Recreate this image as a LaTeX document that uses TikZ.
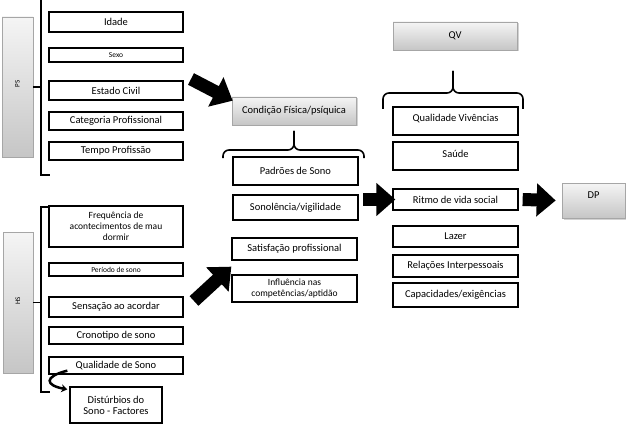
\documentclass[tikz,border=0pt]{standalone}
\usepackage{fontspec}
\setmainfont{Carlito}
\usetikzlibrary{arrows.meta,shadows}

\begin{document}
\begin{tikzpicture}[x=1pt,y=1pt]
  \tikzstyle{every node}=[font=\fontsize{10.5}{11}\selectfont,align=center,inner sep=1pt]
  \tikzstyle{item}=[draw,line width=1.3pt,minimum width=134pt]
  \tikzstyle{head}=[draw=gray!70,line width=0.6pt,top color=gray!8,bottom color=gray!45]
  \tikzstyle{shade}=[drop shadow={shadow xshift=1.5pt,shadow yshift=-1.5pt,opacity=0.35}]
  \tikzstyle{block}=[line width=13pt,-{Triangle[length=19pt,width=32pt]}]
  \tikzstyle{bracket}=[line width=1.5pt]
  \tikzstyle{curly}=[line width=1.6pt,rounded corners=6pt]
  \useasboundingbox [fill=white] (0,0) rectangle (626,-433);
  % PS
  \node [head,minimum width=31pt,minimum height=140pt] (ps) at (17.5,-87) {};
  \node [rotate=90,font=\fontsize{7}{8}\selectfont] (pslabel) at (17.5,-84) {PS};
  \node [item,minimum height=20pt] (idade) at (116,-22) {Idade};
  \node [item,minimum height=14pt,font=\fontsize{7.5}{8}\selectfont] (sexo) at (116,-55) {Sexo};
  \node [item,minimum height=19pt] (estado) at (116,-90.5) {Estado Civil};
  \node [item,minimum height=18pt] (categoria) at (116,-121) {Categoria Profissional};
  \node [item,minimum height=18pt] (tempo) at (116,-151) {Tempo Profissão};
  \coordinate (pstop) at (41,0);
  \coordinate (psbot) at (41,-175);
  \draw [bracket] (pstop) -- (psbot) -- ++(9,0);
  \draw [bracket] (ps.east) -- (ps.east -| pstop);
  % HS
  \node [head,minimum width=30pt,minimum height=141pt] (hs) at (18,-302.5) {};
  \node [rotate=90,font=\fontsize{7}{8}\selectfont] (hslabel) at (18,-301) {HS};
  \node [item,minimum height=41pt,font=\fontsize{9.5}{11}\selectfont] (freq) at (116,-226.5)
    {Frequência de\\acontecimentos de mau\\dormir};
  \node [item,minimum height=13pt,font=\fontsize{7.5}{8}\selectfont] (periodo) at (116,-269.5) {Período de sono};
  \node [item,minimum height=20pt] (sensacao) at (116,-307) {Sensação ao acordar};
  \node [item,minimum height=17pt] (crono) at (116,-335.5) {Cronotipo de sono};
  \node [item,minimum height=17pt] (qual) at (116,-365.5) {Qualidade de Sono};
  \node [item,minimum width=92pt,minimum height=36pt] (dist) at (116,-405) {Distúrbios do\\Sono - Factores};
  \coordinate (hstop) at (41,-207);
  \coordinate (hsbot) at (41,-392);
  \draw [bracket] ([xshift=9pt]hstop) -- (hstop) -- (hsbot) -- ++(9,0);
  \draw [bracket] (hs.east) -- (hs.east -| hstop);
  \draw [line width=2.5pt,-{Stealth[length=6pt,width=8pt]}] ([shift={(19,4)}]qual.south west)
    .. controls +(-24,-6) and +(-22,4) .. ([shift={(-2,-3)}]dist.north west);
  % middle column
  \node [head,shade,minimum width=124pt,minimum height=28pt] (cond) at (294,-111) {Condição Física/psíquica};
  \node [item,minimum width=125pt,minimum height=28pt] (padroes) at (295.5,-171) {Padrões de Sono};
  \node [item,minimum width=125pt,minimum height=25pt] (sono) at (295.5,-207.5) {Sonolência/vigilidade};
  \node [item,minimum width=125pt,minimum height=22pt] (satis) at (294.5,-249) {Satisfação profissional};
  \node [item,minimum width=125pt,minimum height=27pt,font=\fontsize{9.5}{11}\selectfont] (influ) at (294.5,-288.5)
    {Influência nas\\competências/aptidão};
  \coordinate (condtip) at (294,-131);
  \coordinate (condl) at (223,-158);
  \coordinate (condr) at (364,-158);
  \draw [curly] (condl) |- (condtip |- 0,-150) -- (condtip);
  \draw [curly] (condr) |- (condtip |- 0,-150) -- (condtip);
  % right column
  \node [head,shade,minimum width=124pt,minimum height=28pt] (qv) at (455,-36) {QV};
  \node [item,minimum width=125pt,minimum height=28pt,text depth=6pt] (vivencias) at (455.5,-121) {Qualidade Vivências};
  \node [item,minimum width=125pt,minimum height=28pt,text depth=4pt] (saude) at (455.5,-156) {Saúde};
  \node [item,minimum width=125pt,minimum height=21pt] (ritmo) at (455.5,-199.5) {Ritmo de vida social};
  \node [item,minimum width=125pt,minimum height=21pt] (lazer) at (455.5,-236.5) {Lazer};
  \node [item,minimum width=125pt,minimum height=22pt] (relacoes) at (455.5,-266) {Relações Interpessoais};
  \node [item,minimum width=125pt,minimum height=24pt] (capac) at (455.5,-295) {Capacidades/exigências};
  \coordinate (qvtip) at (453,-71);
  \coordinate (qvl) at (383,-109);
  \coordinate (qvr) at (523,-109);
  \draw [curly] (qvl) |- (qvtip |- 0,-93) -- (qvtip);
  \draw [curly] (qvr) |- (qvtip |- 0,-93) -- (qvtip);
  \node [head,shade,minimum width=63pt,minimum height=35pt,text depth=10pt] (dp) at (593.5,-200.5) {DP};
  % block arrows
  \coordinate (ps2cond) at (191,-79);
  \coordinate (hs2satis) at (194,-301);
  \draw [block] (ps2cond) -- ([shift={(1,-4)}]cond.north west);
  \draw [block] (hs2satis) -- ([shift={(0,-6)}]satis.south west);
  \draw [block] ([xshift=-29pt]ritmo.west) -- ([xshift=3pt]ritmo.west);
  \draw [block] ([xshift=4pt]ritmo.east) -- ([xshift=-6pt]dp.west);
\end{tikzpicture}
\end{document}
